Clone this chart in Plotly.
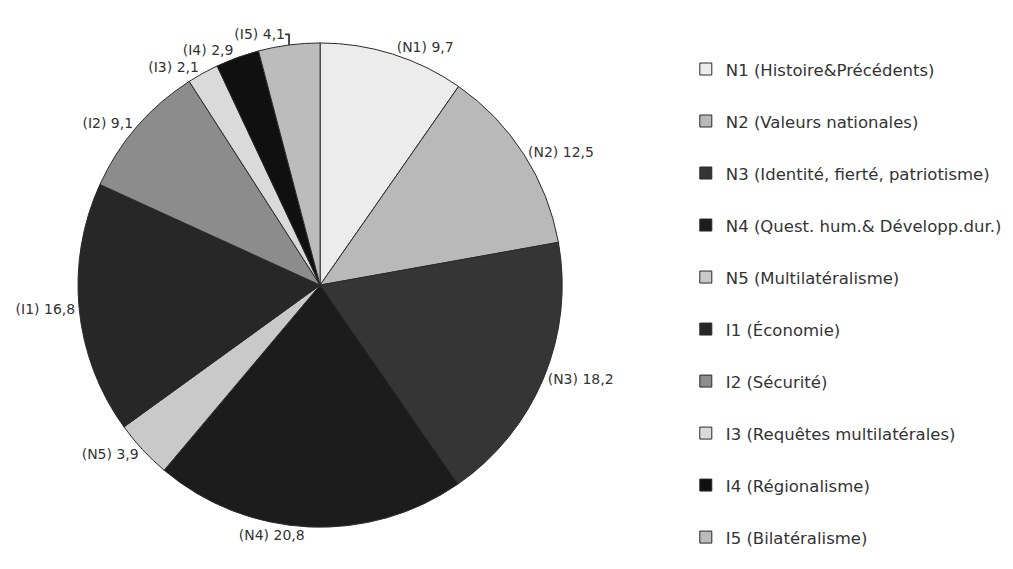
import plotly.graph_objects as go

codes = ["N1", "N2", "N3", "N4", "N5", "I1", "I2", "I3", "I4", "I5"]
names = ["N1 (Histoire&Précédents)", "N2 (Valeurs nationales)",
         "N3 (Identité, fierté, patriotisme)", "N4 (Quest. hum.& Développ.dur.)",
         "N5 (Multilatéralisme)", "I1 (Économie)", "I2 (Sécurité)",
         "I3 (Requêtes multilatérales)", "I4 (Régionalisme)", "I5 (Bilatéralisme)"]
values = [9.7, 12.5, 18.2, 20.8, 3.9, 16.8, 9.1, 2.1, 2.9, 4.1]
colors = ["#ececec", "#b9b9b9", "#353535", "#1c1c1c", "#c9c9c9",
          "#272727", "#8c8c8c", "#dadada", "#101010", "#bcbcbc"]

legend_labels = ['<span style="font-size:16.5px;baseline-shift:8px">' + n + '</span>' for n in names]

fig = go.Figure(go.Pie(
    labels=legend_labels,
    values=values,
    customdata=codes,
    sort=False,
    direction="clockwise",
    rotation=0,
    marker=dict(colors=colors, line=dict(color="#2a2a2a", width=1)),
    textposition="outside",
    texttemplate="(%{customdata}) %{value:.1f}",
    textfont=dict(family="DejaVu Sans", size=14, color="#333333"),
    domain=dict(x=[0.077, 0.555], y=[0.068, 0.93]),
    hoverinfo="skip",
))

fig.update_layout(
    width=1013, height=569,
    margin=dict(l=0, r=0, t=0, b=0),
    paper_bgcolor="white",
    separators=", ",
    showlegend=True,
    legend=dict(
        x=0.677, y=0.933, xanchor="left", yanchor="top",
        font=dict(family="DejaVu Sans", size=37.7, color="#333333"),
        bgcolor="rgba(0,0,0,0)",
    ),
)

fig.write_html("out.html")
